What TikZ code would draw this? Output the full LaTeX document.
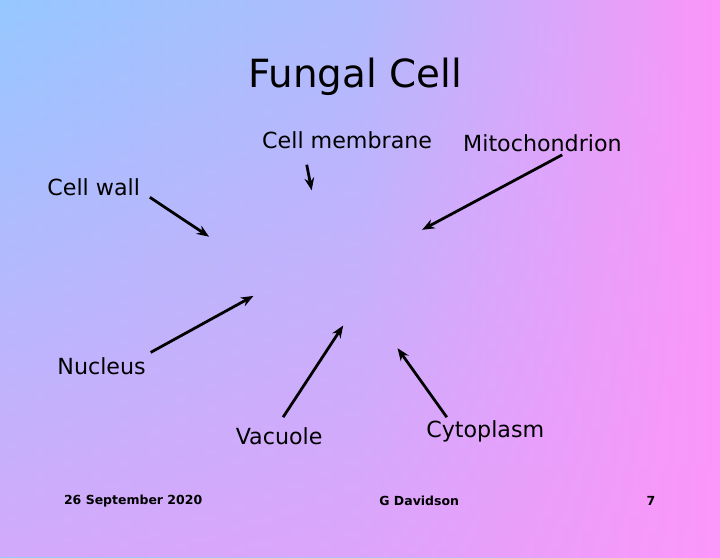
\documentclass[tikz,border=0pt]{standalone}
\usepackage{fontspec}
\setmainfont{DejaVu Sans}
\usetikzlibrary{fadings,arrows.meta}
\definecolor{skyblue}{RGB}{150,200,255}
\definecolor{lilac}{RGB}{252,150,250}
\tikzset{
  lbl/.style={font=\fontsize{16}{18}\selectfont},
  foot/.style={font=\fontsize{9}{11}\selectfont\bfseries},
  pointer/.style={-{Stealth[length=9pt,width=7pt]}, line width=2pt}
}
\begin{document}
\begin{tikzpicture}[x=0.025cm,y=-0.025cm]
	\shade[left color=skyblue, right color=lilac, middle color=skyblue!75!lilac] (-5,-5) rectangle (725,560);
	\fill[lilac, path fading=north, fill opacity=0.6] (-5,-5) rectangle (725,560);
	\useasboundingbox (0,0) rectangle (720,540);

	\node[font=\fontsize{28}{32}\selectfont] (title) at (355,73) {Fungal Cell};

	\node[lbl] (wall) at (90,185) {Cell wall};
	\node[lbl] (membrane) at (347,137) {Cell membrane};
	\node[lbl] (mito) at (545,140) {Mitochondrion};
	\node[lbl] (nucleus) at (98,366) {Nucleus};
	\node[lbl] (vacuole) at (278,437) {Vacuole};
	\node[lbl] (cyto) at (487,432) {Cytoplasm};

	\coordinate (wallend) at (207,235);
	\coordinate (membend) at (311,188);
	\coordinate (mitoend) at (423,228);
	\coordinate (nucend) at (252,295);
	\coordinate (vacend) at (343,325);
	\coordinate (cytoend) at (398,348);

	\draw[pointer] (wall.east) ++(5,10) -- (wallend);
	\draw[pointer] (306,162) -- (membend);
	\draw[pointer] (565,152) -- (mitoend);
	\draw[pointer] (nucleus.north east) -- (nucend);
	\draw[pointer] (282,418) -- (vacend);
	\draw[pointer] (448,418) -- (cytoend);

	\node[foot] (date) at (130,503) {26 September 2020};
	\node[foot] (author) at (420,503) {G Davidson};
	\node[foot] (page) at (655,503) {7};
\end{tikzpicture}
\end{document}
